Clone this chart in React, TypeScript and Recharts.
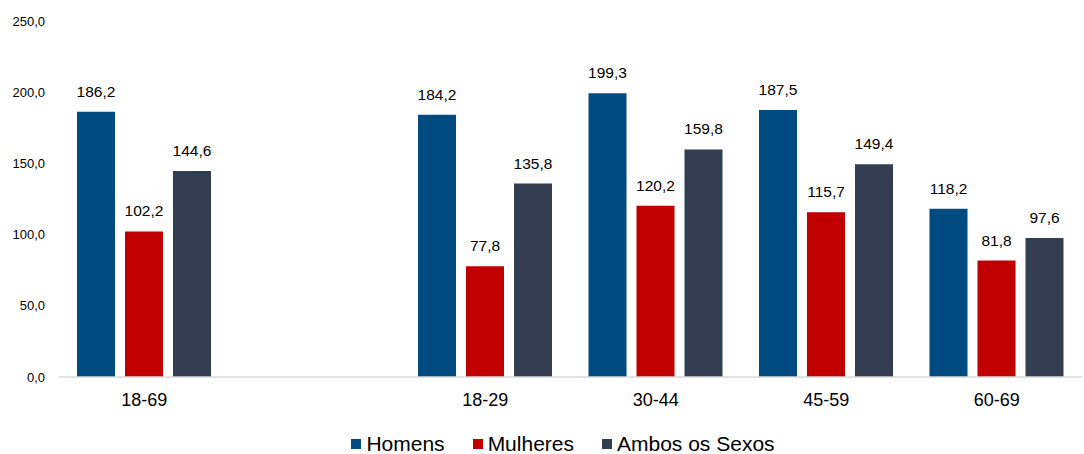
import { BarChart, Bar, XAxis, YAxis, Legend, LabelList } from 'recharts'

const categories = ['18-69', '', '18-29', '30-44', '45-59', '60-69']
const homens = [186.2, null, 184.2, 199.3, 187.5, 118.2]
const mulheres = [102.2, null, 77.8, 120.2, 115.7, 81.8]
const ambos = [144.6, null, 135.8, 159.8, 149.4, 97.6]
const yTicks = [0, 50, 100, 150, 200, 250]

const data = categories.map((c, i) => ({
  faixa: c,
  homens: homens[i],
  mulheres: mulheres[i],
  ambos: ambos[i],
}))

const fmt = (v: any) => (v == null ? '' : Number(v).toFixed(1).replace('.', ','))

const font = 'Liberation Sans, Arial, sans-serif'

const renderLegend = (props: any) => (
  <div
    style={{
      display: 'flex',
      justifyContent: 'center',
      fontSize: 21,
      lineHeight: '24px',
      color: '#000',
      paddingLeft: 44,
      position: 'relative',
      top: 2,
    }}
  >
    {(props.payload || []).map((p: any) => (
      <div key={p.value} style={{ display: 'flex', alignItems: 'center', margin: '0 14px' }}>
        <span style={{ display: 'inline-block', width: 10, height: 10, background: p.color, marginRight: 5 }} />
        <span>{p.value}</span>
      </div>
    ))}
  </div>
)

export default function App() {
  return (
    <div style={{ position: 'absolute', left: 0, top: 0, fontFamily: font }}>
      <BarChart
        width={1084}
        height={454}
        data={data}
        margin={{ top: 21, right: 2, left: 0, bottom: 0 }}
        barGap={10}
        barSize={38}
      >
        <XAxis
          dataKey="faixa"
          axisLine={{ stroke: '#d9d9d9', strokeWidth: 1.5 }}
          tickLine={false}
          tick={{ fontSize: 18, fill: '#000' }}
          tickMargin={10}
          height={53}
        />
        <YAxis
          domain={[0, 250]}
          ticks={yTicks}
          axisLine={false}
          tickLine={false}
          tickFormatter={fmt}
          tick={{ fontSize: 13, fill: '#000' }}
          tickMargin={8}
          width={59}
        />
        <Legend verticalAlign="bottom" itemSorter={null as any} content={renderLegend} />
        <Bar dataKey="homens" name="Homens" fill="#014b80" isAnimationActive={false}>
          <LabelList dataKey="homens" position="top" offset={15} formatter={fmt} style={{ fontSize: 15.5, fill: '#000' }} />
        </Bar>
        <Bar dataKey="mulheres" name="Mulheres" fill="#c00000" isAnimationActive={false}>
          <LabelList dataKey="mulheres" position="top" offset={15} formatter={fmt} style={{ fontSize: 15.5, fill: '#000' }} />
        </Bar>
        <Bar dataKey="ambos" name="Ambos os Sexos" fill="#333f50" isAnimationActive={false}>
          <LabelList dataKey="ambos" position="top" offset={15} formatter={fmt} style={{ fontSize: 15.5, fill: '#000' }} />
        </Bar>
      </BarChart>
    </div>
  )
}
